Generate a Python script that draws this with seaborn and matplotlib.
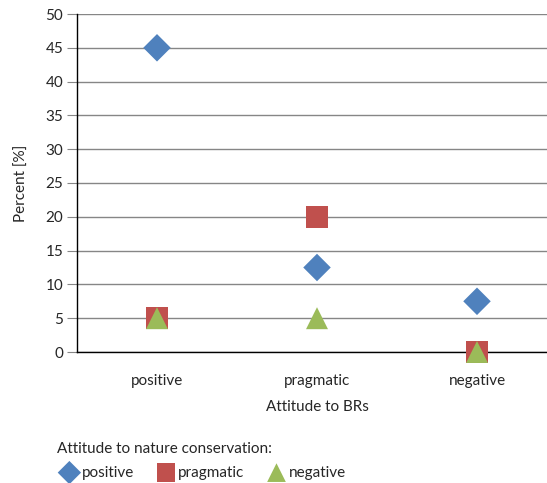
import pandas as pd
import matplotlib
matplotlib.use('Agg')
import matplotlib.pyplot as plt
import seaborn as sns

categories = ['positive', 'pragmatic', 'negative']
positive = [45, 12.5, 7.5]
pragmatic = [5, 20, 0]
negative = [5, 5, 0]

sns.set_style('white')
plt.rcParams['font.family'] = ['Lato', 'DejaVu Sans']

fig = plt.figure(figsize=(5.47, 4.83), dpi=100)
ax = fig.add_axes([77 / 547, 1 - 352 / 483, 480 / 547, 338 / 483])

series = [
    ('positive', positive, 'D', 196, '#4F81BD'),
    ('pragmatic', pragmatic, 's', 250, '#C0504D'),
    ('negative', negative, '^', 250, '#9BBB59'),
]
for name, vals, marker, size, color in series:
    df = pd.DataFrame({'cat': categories, 'val': vals})
    sns.scatterplot(data=df, x='cat', y='val', marker=marker, s=size,
                    color=color, edgecolor='none', ax=ax, label=name,
                    clip_on=False, zorder=3)

ax.set_xlim(-0.5, 2.5)
ax.set_ylim(0, 50)
ax.set_yticks(range(0, 51, 5))
ax.yaxis.grid(True, color='#868686', linewidth=1)
ax.set_axisbelow(True)
for s in ['top', 'right']:
    ax.spines[s].set_visible(False)
ax.spines['left'].set_color('black')
ax.spines['left'].set_linewidth(1)
ax.spines['bottom'].set_color('black')
ax.spines['bottom'].set_linewidth(1)
ax.tick_params(axis='y', which='both', left=True, length=7, color='#868686',
               labelsize=11, pad=3)
ax.tick_params(axis='x', bottom=False, labelsize=11, pad=12)
ax.set_xlabel('Attitude to BRs', fontsize=11, labelpad=9)
ax.set_ylabel('Percent [%]', fontsize=11, labelpad=12)

ax.get_legend().remove()
handles, labels = ax.get_legend_handles_labels()
leg = fig.legend(handles, labels, ncol=3, loc='lower left',
                 bbox_to_anchor=(48 / 547, -0.012), frameon=False,
                 borderaxespad=0.2,
                 title='Attitude to nature conservation:',
                 title_fontsize=11, fontsize=11, alignment='left',
                 handletextpad=0.0, columnspacing=1.3, markerscale=0.85,
                 handlelength=1.6, labelspacing=0.6)

fig.savefig('out.png', dpi=100)
